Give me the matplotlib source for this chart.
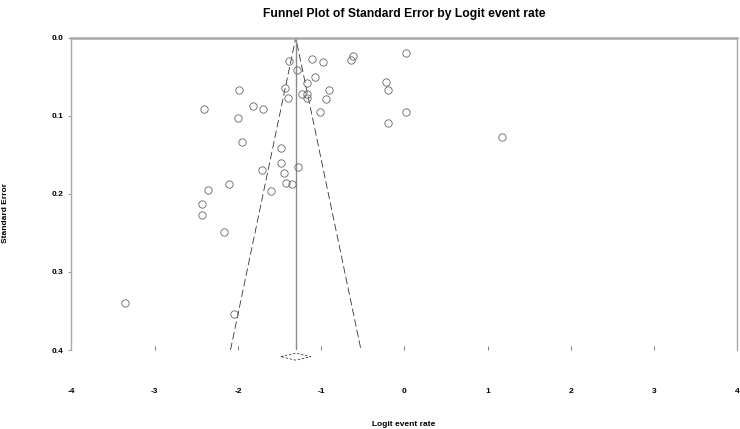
import matplotlib
matplotlib.use("Agg")
import matplotlib.pyplot as plt
import numpy as np

plt.rcParams['font.family'] = ['Liberation Sans', 'DejaVu Sans']

# Study-level data (logit event rate, standard error)
logit_rate = [-1.384, -1.108, -0.973, -0.622, -0.646, -1.295, -1.075, -1.168,
              -1.990, -1.441, -1.402, -1.228, -1.168, -1.168, -0.901, -0.940,
              -2.405, -1.822, -1.696, -2.004, -1.011, -0.228, -0.198, 0.024,
              0.022, -0.202, 1.171, -1.952, -1.480, -1.480, -1.276, -1.712,
              -1.447, -2.112, -1.423, -1.348, -2.357, -1.598, -2.436, -2.429,
              -2.168, -3.358, -2.048]
std_err = [0.0294, 0.0279, 0.0305, 0.0238, 0.0286, 0.0416, 0.0507, 0.0580,
           0.0676, 0.0644, 0.0766, 0.0723, 0.0723, 0.0778, 0.0670, 0.0791,
           0.0909, 0.0881, 0.0913, 0.1022, 0.0955, 0.0565, 0.0670, 0.0192,
           0.0951, 0.1088, 0.1271, 0.1339, 0.1408, 0.1604, 0.1652, 0.1694,
           0.1736, 0.1869, 0.1860, 0.1869, 0.1946, 0.1963, 0.2125, 0.2274,
           0.2492, 0.3393, 0.3542]

# Combined estimate and its confidence interval
combined = -1.306
ci_low, ci_high = -1.486, -1.126

x_ticks = [-4, -3, -2, -1, 0, 1, 2, 3, 4]
y_ticks = [0.0, 0.1, 0.2, 0.3, 0.4]

fig = plt.figure(figsize=(7.4, 4.29), dpi=100)
ax = fig.add_axes([0.0966, 0.1841, 0.9, 0.7280])

se_max = 0.4
# funnel
ax.plot([combined - 1.96 * se_max, combined, combined + 1.96 * se_max],
        [se_max, 0, se_max], color='#333333', lw=0.6, ls=(0, (9, 4)), zorder=2)
ax.plot([combined, combined], [0, se_max], color='#8a8a8a', lw=1.0, zorder=2)

# points
ax.plot(logit_rate, std_err, 'o', ms=5.3, mfc='none', mec='#666666', mew=0.6, zorder=3)

# diamond for combined estimate
dy = 0.0085
dh = 0.0045
ax.plot([ci_low, combined, ci_high, combined, ci_low],
        [se_max + dy, se_max + dy - dh, se_max + dy, se_max + dy + dh, se_max + dy],
        color='#444444', lw=0.6, ls=(0, (3, 2)), clip_on=False)

ax.set_xlim(-4, 4)
ax.set_ylim(0.4, 0.0)

for s in ['left', 'right']:
    ax.spines[s].set_color('#a8a8a8')
    ax.spines[s].set_linewidth(1.0)
ax.spines['top'].set_color('#a8a8a8')
ax.spines['top'].set_linewidth(1.8)
ax.spines['bottom'].set_visible(False)

ax.set_xticks(x_ticks)
ax.set_xticklabels([str(v) for v in x_ticks], fontsize=6, fontweight='bold')
ax.tick_params(axis='x', direction='in', length=3, width=0.6, color='#666666', pad=27)
ax.set_yticks(y_ticks)
ax.set_yticklabels([f'{v:.1f}' for v in y_ticks], fontsize=6, fontweight='bold')
ax.tick_params(axis='y', direction='out', length=2, width=0.6, color='#888888', pad=4)

fig.text(404 / 740, 1 - 14 / 429, 'Funnel Plot of Standard Error by Logit event rate',
         ha='center', va='center', fontsize=8.7, fontweight='bold')
fig.text(404 / 740, 1 - 424 / 429, 'Logit event rate', ha='center', va='center',
         fontsize=6, fontweight='bold')
fig.text(6 / 740, 1 - 213 / 429, 'Standard Error', ha='center', va='center',
         rotation=90, fontsize=6, fontweight='bold')

fig.savefig('out.png', dpi=100)
